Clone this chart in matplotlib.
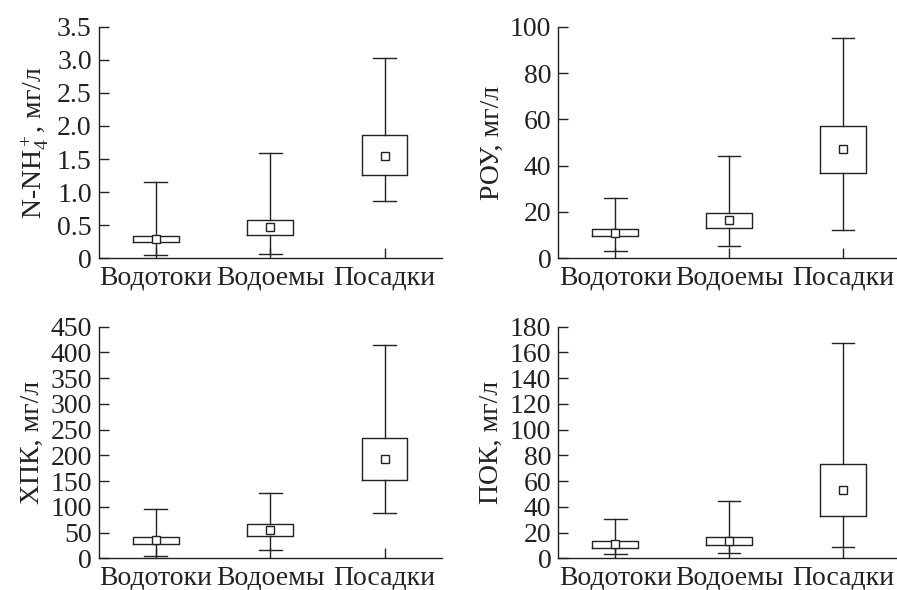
import matplotlib
matplotlib.use('Agg')
import matplotlib.pyplot as plt

plt.rcParams['font.family'] = ['Liberation Serif', 'DejaVu Serif']
plt.rcParams['mathtext.fontset'] = 'custom'
plt.rcParams['mathtext.rm'] = 'Liberation Serif'
plt.rcParams['mathtext.it'] = 'Liberation Serif:italic'

categories = ['Водотоки', 'Водоемы', 'Посадки']

# N-NH4+
nh4_lo = [0.05, 0.065, 0.87]
nh4_q1 = [0.24, 0.35, 1.26]
nh4_mean = [0.29, 0.47, 1.55]
nh4_q3 = [0.34, 0.58, 1.86]
nh4_hi = [1.15, 1.59, 3.02]

# РОУ
rou_lo = [3.2, 5.5, 12.1]
rou_q1 = [9.5, 13.2, 36.8]
rou_mean = [11.0, 16.4, 47.2]
rou_q3 = [12.5, 19.4, 57.3]
rou_hi = [26.0, 44.3, 95.0]

# ХПК
hpk_lo = [4.5, 15.5, 88.6]
hpk_q1 = [28.4, 43.3, 151.5]
hpk_mean = [35.6, 54.4, 192.3]
hpk_q3 = [42.0, 66.0, 234.3]
hpk_hi = [95.8, 126.0, 413.8]

# ПОК
pok_lo = [3.4, 3.9, 9.0]
pok_q1 = [7.8, 10.1, 33.1]
pok_mean = [10.9, 13.2, 53.3]
pok_q3 = [13.2, 16.3, 73.0]
pok_hi = [30.5, 44.5, 167.3]

panels = [
    (nh4_lo, nh4_q1, nh4_mean, nh4_q3, nh4_hi, 'N-$\\mathrm{NH}_4^+$, мг/л', 3.5, [0, 0.5, 1.0, 1.5, 2.0, 2.5, 3.0, 3.5],
     ['0', '0.5', '1.0', '1.5', '2.0', '2.5', '3.0', '3.5']),
    (rou_lo, rou_q1, rou_mean, rou_q3, rou_hi, 'РОУ, мг/л', 100, [0, 20, 40, 60, 80, 100], None),
    (hpk_lo, hpk_q1, hpk_mean, hpk_q3, hpk_hi, 'ХПК, мг/л', 450, list(range(0, 451, 50)), None),
    (pok_lo, pok_q1, pok_mean, pok_q3, pok_hi, 'ПОК, мг/л', 180, list(range(0, 181, 20)), None),
]

W, H = 897, 590
boxes = [(98.7, 258.3, 441.7, 26.7), (558.3, 258.3, 899.8, 26.7),
         (98.7, 558.3, 441.7, 326.7), (558.3, 558.3, 899.8, 326.7)]

fig = plt.figure(figsize=(W / 100, H / 100), dpi=100)

for (lo, q1, mn, q3, hi, ylab, ymax, yt, ytl), (x0, yb, x1, yt_px) in zip(panels, boxes):
    ax = fig.add_axes([x0 / W, 1 - yb / H, (x1 - x0) / W, (yb - yt_px) / H])
    stats = []
    for i in range(3):
        stats.append({'whislo': lo[i], 'q1': q1[i], 'med': mn[i], 'q3': q3[i],
                      'whishi': hi[i], 'mean': mn[i], 'fliers': []})
    ax.bxp(stats, positions=[1, 2, 3], widths=0.4, showmeans=True,
           boxprops=dict(color='#222222', linewidth=1.0),
           whiskerprops=dict(color='#222222', linewidth=1.0),
           capprops=dict(color='#222222', linewidth=1.0),
           medianprops=dict(linewidth=0),
           meanprops=dict(marker='s', markersize=6, markerfacecolor='white',
                          markeredgecolor='#222222', markeredgewidth=1.0),
           capwidths=0.2)
    ax.set_xlim(0.5, 3.5)
    ax.set_ylim(0, ymax)
    ax.set_yticks(yt)
    if ytl:
        ax.set_yticklabels(ytl)
    ax.set_xticks([1, 2, 3])
    ax.set_xticklabels(categories)
    ax.spines['top'].set_visible(False)
    ax.spines['right'].set_visible(False)
    for s in ('left', 'bottom'):
        ax.spines[s].set_linewidth(1.0)
        ax.spines[s].set_color('#222222')
    ax.tick_params(direction='in', length=7, width=1.0, color='#222222',
                   labelsize=20, labelcolor='#222222', pad=5)
    ax.set_ylabel(ylab, fontsize=20, color='#222222', labelpad=4)

fig.savefig('out.png', dpi=100)
